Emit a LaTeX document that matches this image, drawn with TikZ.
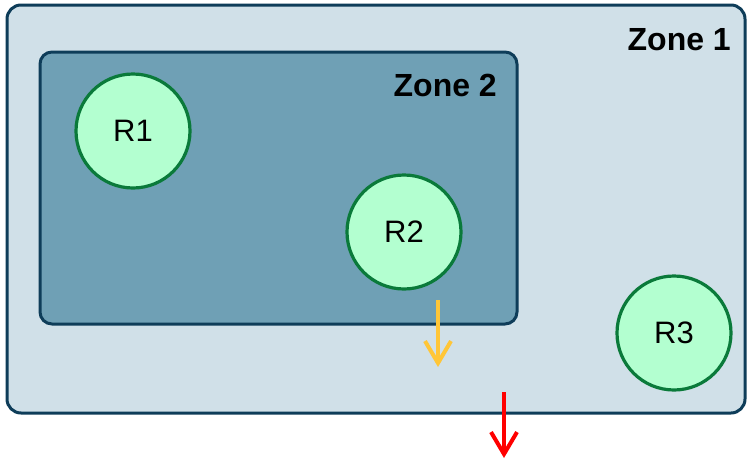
\documentclass[tikz,border=0pt]{standalone}
\usepackage{fontspec}
\setmainfont{Liberation Sans}
\usetikzlibrary{arrows.meta}
\definecolor{zoneonefill}{HTML}{D0E0E8}
\definecolor{zonetwofill}{HTML}{6FA0B5}
\definecolor{zoneborder}{HTML}{0E3D59}
\definecolor{rfill}{HTML}{B3FFD0}
\definecolor{rborder}{HTML}{0A7A3A}
\definecolor{orangearrow}{HTML}{FFC637}
\definecolor{redarrow}{HTML}{FF0000}
\tikzset{
  zonebox/.style={draw=zoneborder, line width=3pt, rounded corners=14pt},
  zonelabel/.style={font=\fontsize{32}{32}\selectfont\bfseries, anchor=base east, inner sep=0pt},
  rnode/.style={circle, draw=rborder, fill=rfill, line width=3.2pt, minimum size=114pt, inner sep=0pt, font=\fontsize{31}{31}\selectfont},
  flowarrow/.style={line width=4pt, -{Straight Barb[length=22pt, width=26pt, line width=4pt]}}
}
\begin{document}
\begin{tikzpicture}[x=1pt, y=-1pt]
\useasboundingbox (0,0) rectangle (747,461);
\fill[white] (0,0) rectangle (747,461);
\draw[zonebox, fill=zoneonefill] (7,5) rectangle (745,413);
\node[zonelabel] (z1) at (731,50) {Zone 1};
\draw[zonebox, fill=zonetwofill, rounded corners=12pt] (40,52) rectangle (517,324);
\node[zonelabel] (z2) at (497,96) {Zone 2};
\node[rnode] (r1) at (133,131) {R1};
\node[rnode] (r2) at (404,232) {R2};
\node[rnode] (r3) at (674,333) {R3};
\coordinate (oa) at (438,300);
\coordinate (ob) at (438,367);
\coordinate (ra) at (504,392);
\coordinate (rb) at (504,458);
\draw[flowarrow, draw=orangearrow] (oa) -- (ob);
\draw[flowarrow, draw=redarrow] (ra) -- (rb);
\end{tikzpicture}
\end{document}
